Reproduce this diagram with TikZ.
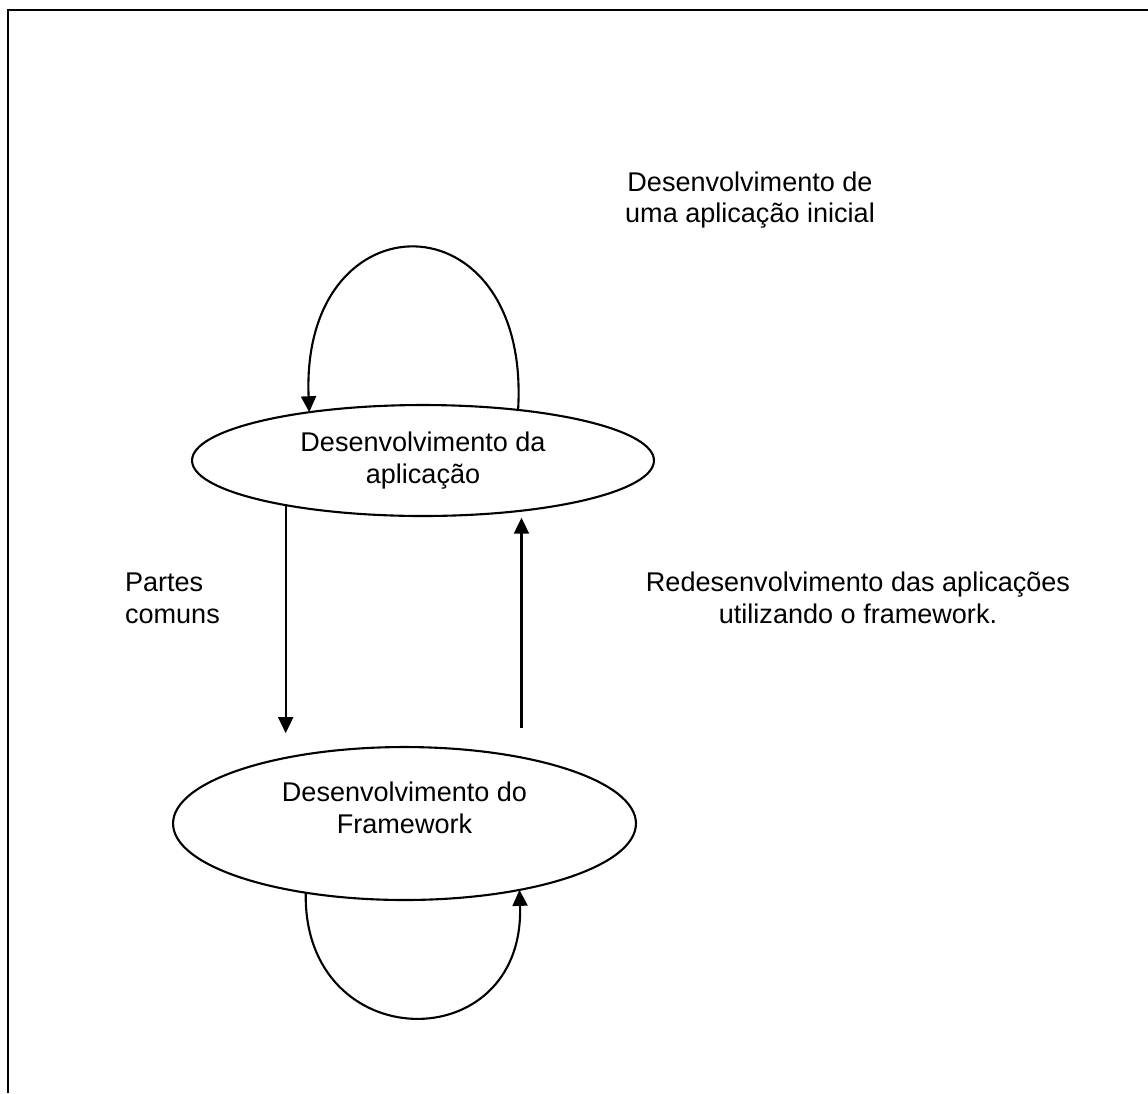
\documentclass[tikz,border=0pt]{standalone}
\usepackage{fontspec}
\setmainfont{Liberation Sans}
\usetikzlibrary{shapes.geometric,arrows.meta}

\begin{document}
\begin{tikzpicture}[x=0.02cm,y=-0.02cm,->,>={Triangle[length=0.32cm,width=0.3cm]},line width=1.2pt,
  main node/.style={ellipse,draw,inner sep=0pt,outer sep=0pt,align=center,font=\fontsize{15.4}{18.1}\selectfont},
  lbl/.style={inner sep=0pt,align=center,font=\fontsize{15.4}{18.1}\selectfont}]

  \useasboundingbox (0,0) rectangle (1148,1093);
  \draw[-,line width=1.6pt] (8,1093) -- (8,10) -- (1148,10);

  \node[main node, minimum width=9.24cm, minimum height=2.22cm] (app) at (423,460.5) {Desenvolvimento da\\aplicação};
  \node[main node, minimum width=9.26cm, minimum height=3.06cm] (fw) at (404.5,823.5) {};
  \node[lbl] (fwtext) at (404.5,807.5) {Desenvolvimento do\\Framework};

  \node[lbl] (ini) at (750,200) {Desenvolvimento de\\uma aplicação inicial};
  \node[lbl, align=left, anchor=west] (comuns) at (124,598) {Partes\\comuns};
  \node[lbl] (redes) at (858,598) {Redesenvolvimento das aplicações\\utilizando o framework.};

  % lacos
  \draw (app.28.3) .. controls +(13,-216) and +(-9,-218) .. (app.157);
  \draw (fw.215.8) .. controls +(-3,165) and +(6,170) .. (fw.-30.1);

  \draw[shorten >=0.48cm] (app.198.6) -- (app.198.6 |- fw.150.14);
  \draw[shorten <=0.58cm, shorten >=0.14cm] (app.-27.75 |- fw.30.15) -- (app.-27.75);
\end{tikzpicture}
\end{document}
